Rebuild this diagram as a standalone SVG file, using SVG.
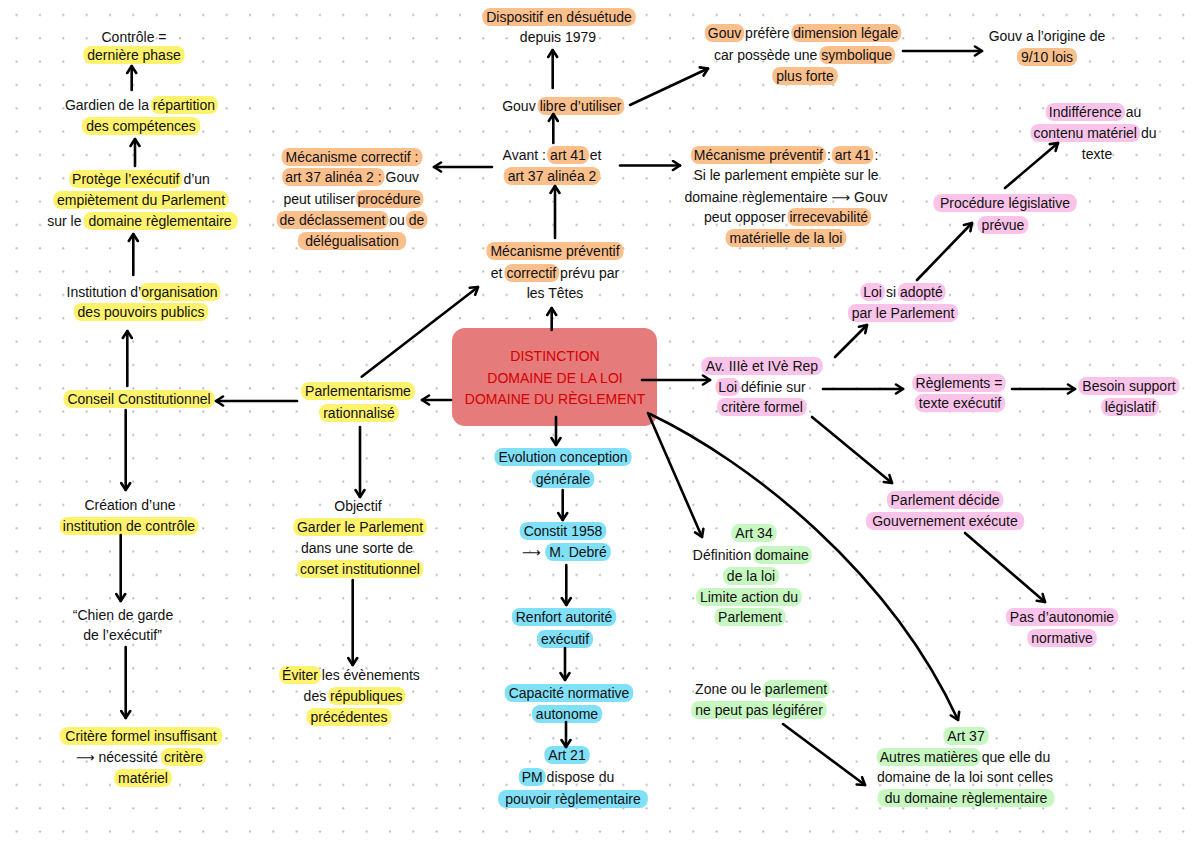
<svg xmlns="http://www.w3.org/2000/svg" width="1200" height="849" viewBox="0 0 1200 849">
<defs>
<style>
.t{font-family:"Liberation Sans",Arial,sans-serif;font-size:14px;fill:#111}
.m{text-anchor:middle}
.ar{font-family:"DejaVu Sans",sans-serif;font-size:13px}
.y{fill:#FFF36E}.o{fill:#FBBF8C}.p{fill:#FAC4EA}.b{fill:#80E0F8}.g{fill:#C6F7C0}
.hd{font-family:"Liberation Sans",Arial,sans-serif;font-size:14px;fill:#D40000;text-anchor:middle}
.c{fill:none;stroke:#000;stroke-width:2.6;stroke-linecap:round;marker-end:url(#ah)}
</style>
<pattern id="dots" x="0" y="0" width="23.333" height="23.333" patternUnits="userSpaceOnUse">
<circle cx="16.67" cy="15" r="1.1" fill="#b4b4b4"/>
</pattern>
<marker id="ah" viewBox="0 0 12 12" refX="10" refY="6" markerWidth="12" markerHeight="12" markerUnits="userSpaceOnUse" orient="auto">
<path d="M3,1.5 L10,6 L3,10.5" fill="none" stroke="#000" stroke-width="2.6" stroke-linecap="round" stroke-linejoin="round"/>
</marker>
</defs>
<rect width="1200" height="849" fill="#fff"/>
<rect width="1200" height="849" fill="url(#dots)"/>

<g id="center">
<rect x="452" y="328" width="205" height="98" rx="13" fill="#E57B7B"/>
<text class="hd" x="555" y="361">DISTINCTION</text>
<text class="hd" x="555" y="383">DOMAINE DE LA LOI</text>
<text class="hd" x="555" y="404">DOMAINE DU RÈGLEMENT</text>
</g>

<g id="controle">
<rect class="y" x="83.3" y="46" width="101.4" height="18" rx="8"/>
<text class="t m" x="134" y="42">Contrôle =</text>
<text class="t m" x="134" y="60">dernière phase</text>
</g>

<g id="gardien">
<rect class="y" x="150.8" y="96" width="67.2" height="18" rx="8"/>
<rect class="y" x="81.8" y="117" width="118.5" height="18" rx="8"/>
<text class="t" x="64.9" y="110">Gardien de la</text>
<text class="t m" x="183.9" y="110">répartition</text>
<text class="t m" x="141" y="131">des compétences</text>
</g>

<g id="protege">
<rect class="y" x="69.1" y="170" width="113.4" height="18" rx="8"/>
<rect class="y" x="53.2" y="191" width="175.6" height="18" rx="8"/>
<rect class="y" x="83.3" y="212" width="154.4" height="18" rx="8"/>
<text class="t m" x="125.8" y="184">Protège l’exécutif</text>
<text class="t" x="183.4" y="184">d’un</text>
<text class="t m" x="141" y="205">empiètement du Parlement</text>
<text class="t" x="47.2" y="226">sur le</text>
<text class="t m" x="160" y="226">domaine règlementaire</text>
</g>

<g id="institution">
<rect class="y" x="139.7" y="283" width="80.8" height="18" rx="8"/>
<rect class="y" x="73.6" y="303" width="134.8" height="18" rx="8"/>
<text class="t" x="66.5" y="297">Institution d’</text>
<text class="t m" x="179.4" y="297">organisation</text>
<text class="t m" x="141" y="317">des pouvoirs publics</text>
</g>

<g id="conseil">
<rect class="y" x="63.4" y="390" width="151.2" height="18" rx="8"/>
<text class="t m" x="139" y="404">Conseil Constitutionnel</text>
</g>

<g id="creation">
<rect class="y" x="59.5" y="517" width="138.9" height="18" rx="8"/>
<text class="t m" x="130" y="510">Création d’une</text>
<text class="t m" x="129" y="531">institution de contrôle</text>
</g>

<g id="chien">
<text class="t m" x="123" y="620">“Chien de garde</text>
<text class="t m" x="122.5" y="640">de l’exécutif”</text>
</g>

<g id="critere">
<rect class="y" x="59.8" y="727" width="162.5" height="18" rx="8"/>
<rect class="y" x="161" y="748" width="44.9" height="18" rx="8"/>
<rect class="y" x="114.1" y="769" width="57.8" height="18" rx="8"/>
<text class="t m" x="141" y="741">Critère formel insuffisant</text>
<text class="t" x="76" y="762"><tspan class="ar">⟶</tspan> nécessité</text>
<text class="t m" x="183.5" y="762">critère</text>
<text class="t m" x="143" y="783">matériel</text>
</g>

<g id="parlementarisme">
<rect class="y" x="301.1" y="382" width="113.8" height="18" rx="8"/>
<rect class="y" x="319.2" y="404" width="79.6" height="18" rx="8"/>
<text class="t m" x="358" y="396">Parlementarisme</text>
<text class="t m" x="359" y="418">rationnalisé</text>
</g>

<g id="objectif">
<rect class="y" x="293.2" y="518" width="133.6" height="18" rx="8"/>
<rect class="y" x="296.7" y="560" width="126.6" height="18" rx="8"/>
<text class="t m" x="358" y="511">Objectif</text>
<text class="t m" x="360" y="532">Garder le Parlement</text>
<text class="t m" x="357" y="553">dans une sorte de</text>
<text class="t m" x="360" y="574">corset institutionnel</text>
</g>

<g id="eviter">
<rect class="y" x="279.1" y="666" width="41.8" height="18" rx="8"/>
<rect class="y" x="328.1" y="687" width="77.4" height="18" rx="8"/>
<rect class="y" x="306.5" y="708" width="85" height="18" rx="8"/>
<text class="t m" x="300" y="680">Éviter</text>
<text class="t" x="321.8" y="680">les évènements</text>
<text class="t" x="303.6" y="701">des</text>
<text class="t m" x="366.3" y="701">républiques</text>
<text class="t m" x="349" y="722">précédentes</text>
</g>

<g id="dispositif">
<rect class="o" x="482.3" y="8" width="153.5" height="18" rx="8"/>
<text class="t m" x="559" y="22">Dispositif en désuétude</text>
<text class="t m" x="558" y="42">depuis 1979</text>
</g>

<g id="gouv-libre">
<rect class="o" x="537.6" y="97" width="86.7" height="18" rx="8"/>
<text class="t" x="502.2" y="111">Gouv</text>
<text class="t m" x="580.5" y="111">libre d’utiliser</text>
</g>

<g id="avant">
<rect class="o" x="547.1" y="146" width="41.8" height="18" rx="8"/>
<rect class="o" x="503.7" y="167" width="96.7" height="18" rx="8"/>
<text class="t" x="502.6" y="160">Avant :</text>
<text class="t m" x="568" y="160">art 41</text>
<text class="t" x="589.8" y="160">et</text>
<text class="t m" x="552" y="181">art 37 alinéa 2</text>
</g>

<g id="mecanisme-correctif">
<rect class="o" x="281.5" y="148" width="141" height="18" rx="8"/>
<rect class="o" x="282.1" y="168" width="102.5" height="18" rx="8"/>
<rect class="o" x="355.5" y="190" width="68" height="18" rx="8"/>
<rect class="o" x="276.6" y="211" width="111.8" height="18" rx="8"/>
<rect class="o" x="405.8" y="211" width="21.6" height="18" rx="8"/>
<rect class="o" x="297.8" y="232" width="108.4" height="18" rx="8"/>
<text class="t m" x="352" y="162">Mécanisme correctif :</text>
<text class="t m" x="333.4" y="182">art 37 alinéa 2 :</text>
<text class="t" x="385.5" y="182">Gouv</text>
<text class="t" x="283.4" y="204">peut utiliser</text>
<text class="t m" x="389" y="204">procédure</text>
<text class="t m" x="332.5" y="225">de déclassement</text>
<text class="t" x="389.3" y="225">ou</text>
<text class="t m" x="416.6" y="225">de</text>
<text class="t m" x="352" y="246">délégualisation</text>
</g>

<g id="mecanisme-preventif-correctif">
<rect class="o" x="486.4" y="242" width="137.2" height="18" rx="8"/>
<rect class="o" x="504.4" y="264" width="54.8" height="18" rx="8"/>
<text class="t m" x="555" y="256">Mécanisme préventif</text>
<text class="t" x="490.8" y="278">et</text>
<text class="t m" x="531.3" y="278">correctif</text>
<text class="t" x="560.1" y="278">prévu par</text>
<text class="t m" x="555" y="298">les Têtes</text>
</g>

<g id="mecanisme-preventif">
<rect class="o" x="690.8" y="146" width="135.2" height="18" rx="8"/>
<rect class="o" x="831.7" y="146" width="41.8" height="18" rx="8"/>
<rect class="o" x="787.5" y="208" width="83.6" height="18" rx="8"/>
<rect class="o" x="725.6" y="229" width="120.8" height="18" rx="8"/>
<text class="t m" x="758.4" y="160">Mécanisme préventif</text>
<text class="t" x="826.9" y="160">:</text>
<text class="t m" x="852.6" y="160">art 41</text>
<text class="t" x="874.4" y="160">:</text>
<text class="t m" x="786" y="180">Si le parlement empiète sur le</text>
<text class="t m" x="786" y="202">domaine règlementaire <tspan class="ar">⟶</tspan> Gouv</text>
<text class="t" x="703.9" y="222">peut opposer</text>
<text class="t m" x="828.8" y="222">irrecevabilité</text>
<text class="t m" x="786" y="243">matérielle de la loi</text>
</g>

<g id="gouv-prefere">
<rect class="o" x="704.7" y="24" width="39.5" height="18" rx="8"/>
<rect class="o" x="791.3" y="24" width="110" height="18" rx="8"/>
<rect class="o" x="819.3" y="46" width="75.8" height="18" rx="8"/>
<rect class="o" x="772.2" y="67" width="65.6" height="18" rx="8"/>
<text class="t m" x="724.5" y="38">Gouv</text>
<text class="t" x="745.1" y="38">préfère</text>
<text class="t m" x="845.8" y="38">dimension légale</text>
<text class="t" x="713.9" y="60">car possède une</text>
<text class="t m" x="856.7" y="60">symbolique</text>
<text class="t m" x="805" y="81">plus forte</text>
</g>

<g id="gouv-origine">
<rect class="o" x="1016.9" y="48" width="60.1" height="18" rx="8"/>
<text class="t m" x="1047" y="41">Gouv a l’origine de</text>
<text class="t m" x="1047" y="62">9/10 lois</text>
</g>

<g id="av-rep">
<rect class="p" x="701.2" y="357" width="121.6" height="18" rx="8"/>
<rect class="p" x="715.4" y="378" width="24.7" height="18" rx="8"/>
<rect class="p" x="717.1" y="398" width="89.7" height="18" rx="8"/>
<text class="t m" x="762" y="371">Av. IIIè et IVè Rep</text>
<text class="t m" x="727.7" y="392">Loi</text>
<text class="t" x="741" y="392">définie sur</text>
<text class="t m" x="762" y="412">critère formel</text>
</g>

<g id="loi-si-adopte">
<rect class="p" x="860.3" y="283" width="24.7" height="18" rx="8"/>
<rect class="p" x="897.9" y="283" width="47.8" height="18" rx="8"/>
<rect class="p" x="847.9" y="304" width="110.2" height="18" rx="8"/>
<text class="t m" x="872.6" y="297">Loi</text>
<text class="t" x="885.9" y="297">si</text>
<text class="t m" x="921.3" y="297">adopté</text>
<text class="t m" x="903" y="318">par le Parlement</text>
</g>

<g id="procedure">
<rect class="p" x="933.3" y="194" width="143.5" height="18" rx="8"/>
<rect class="p" x="977.6" y="216" width="50.8" height="18" rx="8"/>
<text class="t m" x="1005" y="208">Procédure législative</text>
<text class="t m" x="1003" y="230">prévue</text>
</g>

<g id="indifference">
<rect class="p" x="1045.7" y="103" width="79.2" height="18" rx="8"/>
<rect class="p" x="1030.5" y="124" width="109.5" height="18" rx="8"/>
<text class="t m" x="1085.3" y="117">Indifférence</text>
<text class="t" x="1125.8" y="117">au</text>
<text class="t m" x="1085.2" y="138">contenu matériel</text>
<text class="t" x="1140.9" y="138">du</text>
<text class="t m" x="1097" y="159">texte</text>
</g>

<g id="reglements">
<rect class="p" x="912.3" y="374" width="93.4" height="18" rx="8"/>
<rect class="p" x="914.8" y="394" width="90.5" height="18" rx="8"/>
<text class="t m" x="959" y="388">Règlements =</text>
<text class="t m" x="960" y="408">texte exécutif</text>
</g>

<g id="besoin">
<rect class="p" x="1078.3" y="377" width="101.4" height="18" rx="8"/>
<rect class="p" x="1101.1" y="398" width="57.9" height="18" rx="8"/>
<text class="t m" x="1129" y="391">Besoin support</text>
<text class="t m" x="1130" y="412">législatif</text>
</g>

<g id="parlement-decide">
<rect class="p" x="886.8" y="491" width="116.5" height="18" rx="8"/>
<rect class="p" x="865.9" y="512" width="158.3" height="18" rx="8"/>
<text class="t m" x="945" y="505">Parlement décide</text>
<text class="t m" x="945" y="526">Gouvernement exécute</text>
</g>

<g id="pas-autonomie">
<rect class="p" x="1005.9" y="608" width="112.3" height="18" rx="8"/>
<rect class="p" x="1027.3" y="629" width="69.5" height="18" rx="8"/>
<text class="t m" x="1062" y="622">Pas d’autonomie</text>
<text class="t m" x="1062" y="643">normative</text>
</g>

<g id="evolution">
<rect class="b" x="494.4" y="448" width="137.2" height="18" rx="8"/>
<rect class="b" x="531.8" y="470" width="62.5" height="18" rx="8"/>
<text class="t m" x="563" y="462">Evolution conception</text>
<text class="t m" x="563" y="484">générale</text>
</g>

<g id="constit">
<rect class="b" x="519.7" y="522" width="86.6" height="18" rx="8"/>
<rect class="b" x="545.2" y="543" width="65.6" height="18" rx="8"/>
<text class="t m" x="563" y="536">Constit 1958</text>
<text class="t ar" x="522" y="557">⟶</text>
<text class="t m" x="578" y="557">M. Debré</text>
</g>

<g id="renfort">
<rect class="b" x="511.8" y="608" width="104.5" height="18" rx="8"/>
<rect class="b" x="536.9" y="630" width="56.2" height="18" rx="8"/>
<text class="t m" x="564" y="622">Renfort autorité</text>
<text class="t m" x="565" y="644">exécutif</text>
</g>

<g id="capacite">
<rect class="b" x="504.7" y="684" width="128.6" height="18" rx="8"/>
<rect class="b" x="531.9" y="705" width="70.3" height="18" rx="8"/>
<text class="t m" x="569" y="698">Capacité normative</text>
<text class="t m" x="567" y="719">autonome</text>
</g>

<g id="art21">
<rect class="b" x="544.3" y="746" width="45.4" height="18" rx="8"/>
<rect class="b" x="518.7" y="768" width="27" height="18" rx="8"/>
<rect class="b" x="498.2" y="790" width="149.7" height="18" rx="8"/>
<text class="t m" x="567" y="760">Art 21</text>
<text class="t m" x="532.2" y="782">PM</text>
<text class="t" x="546.6" y="782">dispose du</text>
<text class="t m" x="573" y="804">pouvoir règlementaire</text>
</g>

<g id="art34">
<rect class="g" x="731.3" y="524" width="45.4" height="18" rx="8"/>
<rect class="g" x="753" y="546" width="58.7" height="18" rx="8"/>
<rect class="g" x="722.9" y="567" width="56.2" height="18" rx="8"/>
<rect class="g" x="696" y="588" width="106" height="18" rx="8"/>
<rect class="g" x="714.4" y="608" width="71.3" height="18" rx="8"/>
<text class="t m" x="754" y="538">Art 34</text>
<text class="t" x="692.8" y="560">Définition</text>
<text class="t m" x="781.9" y="560">domaine</text>
<text class="t m" x="751" y="581">de la loi</text>
<text class="t m" x="749" y="602">Limite action du</text>
<text class="t m" x="750" y="622">Parlement</text>
</g>

<g id="zone">
<rect class="g" x="763.1" y="680" width="66.8" height="18" rx="8"/>
<rect class="g" x="691.2" y="701" width="135.6" height="18" rx="8"/>
<text class="t" x="695.1" y="694">Zone ou le</text>
<text class="t m" x="796" y="694">parlement</text>
<text class="t m" x="759" y="715">ne peut pas légiférer</text>
</g>

<g id="art37">
<rect class="g" x="943.3" y="727" width="45.4" height="18" rx="8"/>
<rect class="g" x="876.8" y="748" width="104" height="18" rx="8"/>
<rect class="g" x="877.6" y="789" width="176.9" height="18" rx="8"/>
<text class="t m" x="966" y="741">Art 37</text>
<text class="t m" x="928.8" y="762">Autres matières</text>
<text class="t" x="981.7" y="762">que elle du</text>
<text class="t m" x="965" y="782">domaine de la loi sont celles</text>
<text class="t m" x="966" y="803">du domaine règlementaire</text>
</g>

<g id="connectors">
<line class="c" x1="131.7" y1="90" x2="131.7" y2="66"/>
<line class="c" x1="135" y1="166" x2="135" y2="139"/>
<line class="c" x1="133.3" y1="275" x2="133.3" y2="234"/>
<line class="c" x1="127.3" y1="386" x2="127.3" y2="331"/>
<line class="c" x1="125.7" y1="410" x2="125.7" y2="490"/>
<line class="c" x1="120.7" y1="535" x2="120.7" y2="601"/>
<line class="c" x1="125.7" y1="647" x2="125.7" y2="718"/>
<line class="c" x1="297" y1="401" x2="216" y2="401"/>
<line class="c" x1="451" y1="400" x2="422" y2="400"/>
<line class="c" x1="361.7" y1="376.7" x2="478" y2="287"/>
<line class="c" x1="360" y1="427" x2="360" y2="497"/>
<line class="c" x1="352.7" y1="580" x2="352.7" y2="665"/>
<line class="c" x1="551.7" y1="330" x2="551.7" y2="308"/>
<line class="c" x1="555" y1="238" x2="555" y2="186"/>
<line class="c" x1="553.3" y1="143" x2="553.3" y2="114"/>
<line class="c" x1="552.7" y1="88" x2="552.7" y2="50"/>
<line class="c" x1="492" y1="167" x2="434" y2="167"/>
<line class="c" x1="620" y1="165.5" x2="680" y2="165.5"/>
<line class="c" x1="630" y1="105" x2="708" y2="68.5"/>
<line class="c" x1="903" y1="51" x2="982" y2="51"/>
<line class="c" x1="642" y1="380" x2="710" y2="380"/>
<line class="c" x1="835" y1="357" x2="867" y2="325"/>
<line class="c" x1="917" y1="280" x2="972" y2="223"/>
<line class="c" x1="1005" y1="188" x2="1058" y2="143"/>
<line class="c" x1="823" y1="389" x2="903" y2="389"/>
<line class="c" x1="1012" y1="389" x2="1075" y2="389"/>
<line class="c" x1="812" y1="417" x2="892" y2="483"/>
<line class="c" x1="965" y1="533" x2="1045" y2="602"/>
<line class="c" x1="648" y1="413" x2="702" y2="537"/>
<path class="c" d="M650,414 C750,462 890,572 958,720"/>
<line class="c" x1="783" y1="724" x2="865" y2="785"/>
<line class="c" x1="556" y1="417" x2="556" y2="445"/>
<line class="c" x1="562.7" y1="490" x2="562.7" y2="520"/>
<line class="c" x1="566.3" y1="565" x2="566.3" y2="605"/>
<line class="c" x1="565" y1="648" x2="565" y2="680"/>
<line class="c" x1="566" y1="722" x2="566" y2="747"/>
</g>
</svg>
